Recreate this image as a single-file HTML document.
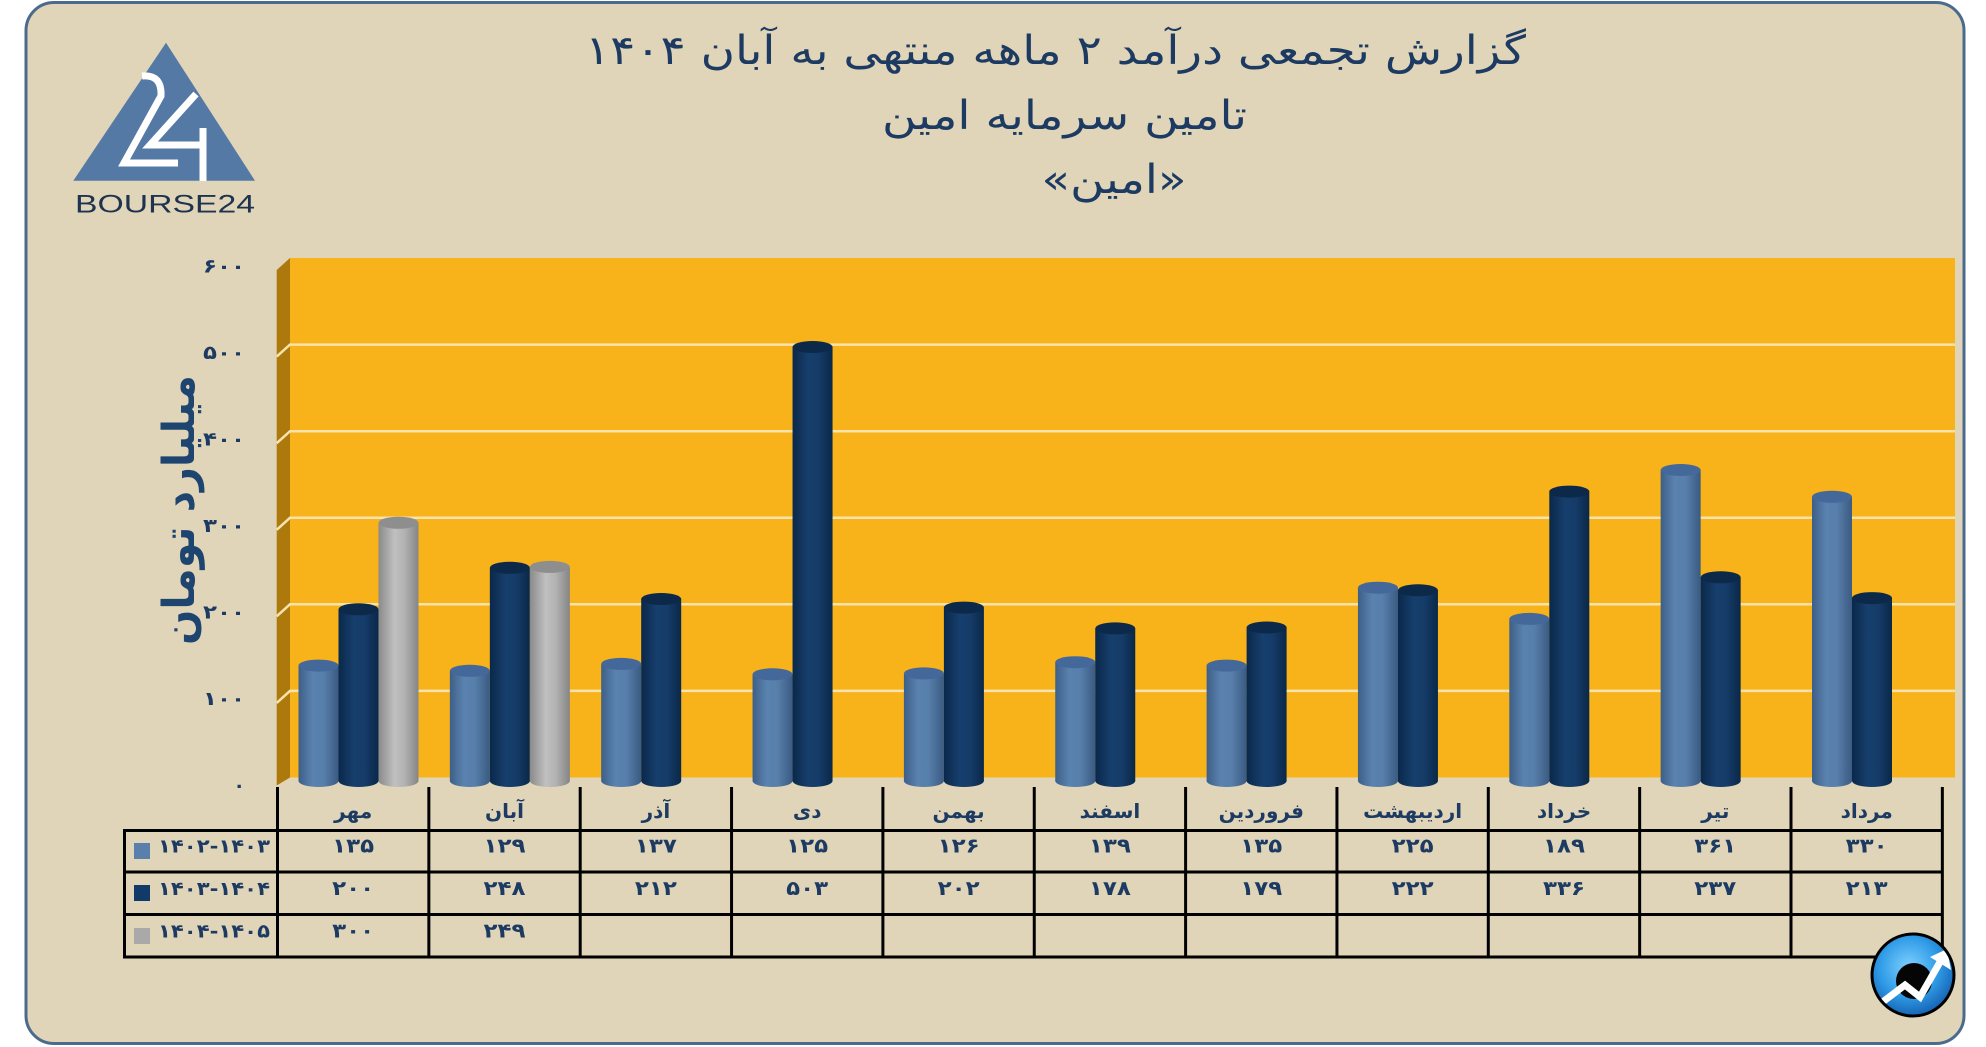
<!DOCTYPE html>
<html>
<head>
<meta charset="utf-8">
<style>
  html, body { margin:0; padding:0; background:#ffffff; }
  body { width:1986px; height:1047px; overflow:hidden; }
  svg { display:block; }
  .fa { font-family: "DejaVu Sans", sans-serif; }
</style>
</head>
<body>
<svg width="1986" height="1047" viewBox="0 0 1986 1047" xmlns="http://www.w3.org/2000/svg">
  <defs>
    <linearGradient id="gL" x1="0" x2="1" y1="0" y2="0">
      <stop offset="0" stop-color="#3d5f87"/>
      <stop offset="0.35" stop-color="#5a82af"/>
      <stop offset="0.62" stop-color="#587fab"/>
      <stop offset="1" stop-color="#3a5b82"/>
    </linearGradient>
    <linearGradient id="gD" x1="0" x2="1" y1="0" y2="0">
      <stop offset="0" stop-color="#0a284a"/>
      <stop offset="0.4" stop-color="#173f6d"/>
      <stop offset="0.65" stop-color="#153c69"/>
      <stop offset="1" stop-color="#0a2848"/>
    </linearGradient>
    <linearGradient id="gG" x1="0" x2="1" y1="0" y2="0">
      <stop offset="0" stop-color="#8a8a8a"/>
      <stop offset="0.4" stop-color="#c0c0c0"/>
      <stop offset="0.65" stop-color="#b2b2b2"/>
      <stop offset="1" stop-color="#858585"/>
    </linearGradient>
    <radialGradient id="gI" cx="0.45" cy="0.4" r="0.6">
      <stop offset="0" stop-color="#7fd0ff"/>
      <stop offset="0.6" stop-color="#2f9be6"/>
      <stop offset="1" stop-color="#1664b4"/>
    </radialGradient>
    <clipPath id="iconClip">
      <circle cx="1913" cy="975" r="40"/>
    </clipPath>
  </defs>

  <!-- outer panel -->
  <rect x="26" y="2.5" width="1938" height="1041" rx="28" ry="28" fill="#e0d5b8" stroke="#4b6b8d" stroke-width="3"/>

  <!-- logo -->
  <polygon points="166,42.7 73.3,180.7 255,180.7" fill="#5479a5"/>
  <path d="M142,76 Q162,74 161,96 L124,163 L178,163" fill="none" stroke="#ffffff" stroke-width="7" stroke-linejoin="miter"/>
  <path d="M196,94 L150,145 L206,145" fill="none" stroke="#ffffff" stroke-width="7" stroke-linejoin="miter"/>
  <path d="M203,128 L203,181" fill="none" stroke="#ffffff" stroke-width="7"/>
  <text x="75" y="212.5" font-family="Liberation Sans, sans-serif" font-size="25" textLength="180" lengthAdjust="spacingAndGlyphs" fill="#1e3350">BOURSE24</text>

  <!-- title -->
  <g class="fa" fill="#1d3b62" font-size="40">
    <text x="1055.5" y="64" text-anchor="middle" textLength="941" lengthAdjust="spacingAndGlyphs">گزارش تجمعی درآمد ۲ ماهه منتهی به آبان ۱۴۰۴</text>
    <text x="1064.5" y="129" text-anchor="middle" textLength="365" lengthAdjust="spacingAndGlyphs">تامین سرمایه امین</text>
    <text x="1114" y="193" text-anchor="middle" textLength="145" lengthAdjust="spacingAndGlyphs">«امین»</text>
  </g>

  <!-- plot back wall -->
  <rect x="290" y="258" width="1665" height="519.5" fill="#f8b21a"/>
  <!-- side wall -->
  <polygon points="276.7,270 290,258 290,777.5 276.7,785.5" fill="#ae790c"/>

  <!-- gridlines -->
  <g stroke="#f6e3ae" stroke-width="2.5" fill="none">
    <path d="M276.7,356.6 L290,344.6 L1955,344.6"/>
    <path d="M276.7,443.2 L290,431.2 L1955,431.2"/>
    <path d="M276.7,529.8 L290,517.8 L1955,517.8"/>
    <path d="M276.7,616.3 L290,604.3 L1955,604.3"/>
    <path d="M276.7,702.9 L290,690.9 L1955,690.9"/>
  </g>

  <!-- y axis labels -->
  <g class="fa" fill="#1d3b62" font-size="19" font-weight="bold" text-anchor="end">
    <text x="245" y="272.5" textLength="42" lengthAdjust="spacingAndGlyphs">۶۰۰</text>
    <text x="245" y="359" textLength="42" lengthAdjust="spacingAndGlyphs">۵۰۰</text>
    <text x="245" y="445.5" textLength="42" lengthAdjust="spacingAndGlyphs">۴۰۰</text>
    <text x="245" y="532" textLength="42" lengthAdjust="spacingAndGlyphs">۳۰۰</text>
    <text x="245" y="618.5" textLength="42" lengthAdjust="spacingAndGlyphs">۲۰۰</text>
    <text x="245" y="705" textLength="42" lengthAdjust="spacingAndGlyphs">۱۰۰</text>
    <text x="245" y="791.5">۰</text>
  </g>

  <!-- y axis title -->
  <text class="fa" transform="translate(194,510) rotate(-90)" text-anchor="middle" font-size="44" font-weight="bold" textLength="270" lengthAdjust="spacingAndGlyphs" fill="#1e4470">میلیارد تومان</text>

  <!-- bars -->
  <g>
    <!-- مهر -->
    <rect x="298.5" y="665.6" width="40" height="115.4" fill="url(#gL)"/><ellipse cx="318.5" cy="781" rx="20" ry="6" fill="url(#gL)"/><ellipse cx="318.5" cy="665.6" rx="20" ry="6" fill="#44689a"/>
    <rect x="338.5" y="609.3" width="40" height="171.7" fill="url(#gD)"/><ellipse cx="358.5" cy="781" rx="20" ry="6" fill="url(#gD)"/><ellipse cx="358.5" cy="609.3" rx="20" ry="6" fill="#0c2949"/>
    <rect x="378.5" y="522.8" width="40" height="258.2" fill="url(#gG)"/><ellipse cx="398.5" cy="781" rx="20" ry="6" fill="url(#gG)"/><ellipse cx="398.5" cy="522.8" rx="20" ry="6" fill="#8e8e8e"/>
    <!-- آبان -->
    <rect x="449.85" y="670.8" width="40" height="110.2" fill="url(#gL)"/><ellipse cx="469.85" cy="781" rx="20" ry="6" fill="url(#gL)"/><ellipse cx="469.85" cy="670.8" rx="20" ry="6" fill="#44689a"/>
    <rect x="489.85" y="567.8" width="40" height="213.2" fill="url(#gD)"/><ellipse cx="509.85" cy="781" rx="20" ry="6" fill="url(#gD)"/><ellipse cx="509.85" cy="567.8" rx="20" ry="6" fill="#0c2949"/>
    <rect x="529.85" y="566.9" width="40" height="214.1" fill="url(#gG)"/><ellipse cx="549.85" cy="781" rx="20" ry="6" fill="url(#gG)"/><ellipse cx="549.85" cy="566.9" rx="20" ry="6" fill="#8e8e8e"/>
    <!-- آذر -->
    <rect x="601.2" y="663.9" width="40" height="117.1" fill="url(#gL)"/><ellipse cx="621.2" cy="781" rx="20" ry="6" fill="url(#gL)"/><ellipse cx="621.2" cy="663.9" rx="20" ry="6" fill="#44689a"/>
    <rect x="641.2" y="599.0" width="40" height="182" fill="url(#gD)"/><ellipse cx="661.2" cy="781" rx="20" ry="6" fill="url(#gD)"/><ellipse cx="661.2" cy="599.0" rx="20" ry="6" fill="#0c2949"/>
    <!-- دی -->
    <rect x="752.55" y="674.3" width="40" height="106.7" fill="url(#gL)"/><ellipse cx="772.55" cy="781" rx="20" ry="6" fill="url(#gL)"/><ellipse cx="772.55" cy="674.3" rx="20" ry="6" fill="#44689a"/>
    <rect x="792.55" y="347.0" width="40" height="434" fill="url(#gD)"/><ellipse cx="812.55" cy="781" rx="20" ry="6" fill="url(#gD)"/><ellipse cx="812.55" cy="347.0" rx="20" ry="6" fill="#0c2949"/>
    <!-- بهمن -->
    <rect x="903.9" y="673.4" width="40" height="107.6" fill="url(#gL)"/><ellipse cx="923.9" cy="781" rx="20" ry="6" fill="url(#gL)"/><ellipse cx="923.9" cy="673.4" rx="20" ry="6" fill="#44689a"/>
    <rect x="943.9" y="607.6" width="40" height="173.4" fill="url(#gD)"/><ellipse cx="963.9" cy="781" rx="20" ry="6" fill="url(#gD)"/><ellipse cx="963.9" cy="607.6" rx="20" ry="6" fill="#0c2949"/>
    <!-- اسفند -->
    <rect x="1055.25" y="662.2" width="40" height="118.8" fill="url(#gL)"/><ellipse cx="1075.25" cy="781" rx="20" ry="6" fill="url(#gL)"/><ellipse cx="1075.25" cy="662.2" rx="20" ry="6" fill="#44689a"/>
    <rect x="1095.25" y="628.4" width="40" height="152.6" fill="url(#gD)"/><ellipse cx="1115.25" cy="781" rx="20" ry="6" fill="url(#gD)"/><ellipse cx="1115.25" cy="628.4" rx="20" ry="6" fill="#0c2949"/>
    <!-- فروردین -->
    <rect x="1206.6" y="665.6" width="40" height="115.4" fill="url(#gL)"/><ellipse cx="1226.6" cy="781" rx="20" ry="6" fill="url(#gL)"/><ellipse cx="1226.6" cy="665.6" rx="20" ry="6" fill="#44689a"/>
    <rect x="1246.6" y="627.5" width="40" height="153.5" fill="url(#gD)"/><ellipse cx="1266.6" cy="781" rx="20" ry="6" fill="url(#gD)"/><ellipse cx="1266.6" cy="627.5" rx="20" ry="6" fill="#0c2949"/>
    <!-- اردیبهشت -->
    <rect x="1357.95" y="587.7" width="40" height="193.3" fill="url(#gL)"/><ellipse cx="1377.95" cy="781" rx="20" ry="6" fill="url(#gL)"/><ellipse cx="1377.95" cy="587.7" rx="20" ry="6" fill="#44689a"/>
    <rect x="1397.95" y="590.3" width="40" height="190.7" fill="url(#gD)"/><ellipse cx="1417.95" cy="781" rx="20" ry="6" fill="url(#gD)"/><ellipse cx="1417.95" cy="590.3" rx="20" ry="6" fill="#0c2949"/>
    <!-- خرداد -->
    <rect x="1509.3" y="618.9" width="40" height="162.1" fill="url(#gL)"/><ellipse cx="1529.3" cy="781" rx="20" ry="6" fill="url(#gL)"/><ellipse cx="1529.3" cy="618.9" rx="20" ry="6" fill="#44689a"/>
    <rect x="1549.3" y="491.6" width="40" height="289.4" fill="url(#gD)"/><ellipse cx="1569.3" cy="781" rx="20" ry="6" fill="url(#gD)"/><ellipse cx="1569.3" cy="491.6" rx="20" ry="6" fill="#0c2949"/>
    <!-- تیر -->
    <rect x="1660.65" y="470.0" width="40" height="311" fill="url(#gL)"/><ellipse cx="1680.65" cy="781" rx="20" ry="6" fill="url(#gL)"/><ellipse cx="1680.65" cy="470.0" rx="20" ry="6" fill="#44689a"/>
    <rect x="1700.65" y="577.3" width="40" height="203.7" fill="url(#gD)"/><ellipse cx="1720.65" cy="781" rx="20" ry="6" fill="url(#gD)"/><ellipse cx="1720.65" cy="577.3" rx="20" ry="6" fill="#0c2949"/>
    <!-- مرداد -->
    <rect x="1812" y="496.8" width="40" height="284.2" fill="url(#gL)"/><ellipse cx="1832" cy="781" rx="20" ry="6" fill="url(#gL)"/><ellipse cx="1832" cy="496.8" rx="20" ry="6" fill="#44689a"/>
    <rect x="1852" y="598.1" width="40" height="182.9" fill="url(#gD)"/><ellipse cx="1872" cy="781" rx="20" ry="6" fill="url(#gD)"/><ellipse cx="1872" cy="598.1" rx="20" ry="6" fill="#0c2949"/>
  </g>

  <!-- data table lines -->
  <g stroke="#000000" stroke-width="3" fill="none">
    <line x1="124.5" y1="830.5" x2="1943.5" y2="830.5"/>
    <line x1="124.5" y1="872" x2="1943.5" y2="872"/>
    <line x1="124.5" y1="914.5" x2="1943.5" y2="914.5"/>
    <line x1="124.5" y1="957" x2="1943.5" y2="957"/>
    <line x1="124.5" y1="829" x2="124.5" y2="958.5"/>
    <line x1="277.5" y1="787" x2="277.5" y2="958.5"/>
    <line x1="428.85" y1="787" x2="428.85" y2="958.5"/>
    <line x1="580.2" y1="787" x2="580.2" y2="958.5"/>
    <line x1="731.55" y1="787" x2="731.55" y2="958.5"/>
    <line x1="882.9" y1="787" x2="882.9" y2="958.5"/>
    <line x1="1034.25" y1="787" x2="1034.25" y2="958.5"/>
    <line x1="1185.6" y1="787" x2="1185.6" y2="958.5"/>
    <line x1="1336.95" y1="787" x2="1336.95" y2="958.5"/>
    <line x1="1488.3" y1="787" x2="1488.3" y2="958.5"/>
    <line x1="1639.65" y1="787" x2="1639.65" y2="958.5"/>
    <line x1="1791" y1="787" x2="1791" y2="958.5"/>
    <line x1="1942.35" y1="787" x2="1942.35" y2="958.5"/>
  </g>

  <!-- category labels -->
  <g class="fa" fill="#1d3b62" font-size="20" font-weight="bold" text-anchor="middle">
    <text x="353.2" y="818">مهر</text>
    <text x="504.5" y="818">آبان</text>
    <text x="655.9" y="818">آذر</text>
    <text x="807.2" y="818">دی</text>
    <text x="958.6" y="818">بهمن</text>
    <text x="1109.9" y="818">اسفند</text>
    <text x="1261.3" y="818">فروردین</text>
    <text x="1412.6" y="818">اردیبهشت</text>
    <text x="1564" y="818">خرداد</text>
    <text x="1715.3" y="818">تیر</text>
    <text x="1866.7" y="818">مرداد</text>
  </g>

  <!-- values -->
  <g class="fa" fill="#1d3b62" font-size="20" font-weight="bold" text-anchor="middle">
    <text x="353.2" y="852.5" textLength="42" lengthAdjust="spacingAndGlyphs">۱۳۵</text>
    <text x="504.5" y="852.5" textLength="42" lengthAdjust="spacingAndGlyphs">۱۲۹</text>
    <text x="655.9" y="852.5" textLength="42" lengthAdjust="spacingAndGlyphs">۱۳۷</text>
    <text x="807.2" y="852.5" textLength="42" lengthAdjust="spacingAndGlyphs">۱۲۵</text>
    <text x="958.6" y="852.5" textLength="42" lengthAdjust="spacingAndGlyphs">۱۲۶</text>
    <text x="1109.9" y="852.5" textLength="42" lengthAdjust="spacingAndGlyphs">۱۳۹</text>
    <text x="1261.3" y="852.5" textLength="42" lengthAdjust="spacingAndGlyphs">۱۳۵</text>
    <text x="1412.6" y="852.5" textLength="42" lengthAdjust="spacingAndGlyphs">۲۲۵</text>
    <text x="1564" y="852.5" textLength="42" lengthAdjust="spacingAndGlyphs">۱۸۹</text>
    <text x="1715.3" y="852.5" textLength="42" lengthAdjust="spacingAndGlyphs">۳۶۱</text>
    <text x="1866.7" y="852.5" textLength="42" lengthAdjust="spacingAndGlyphs">۳۳۰</text>

    <text x="353.2" y="895" textLength="42" lengthAdjust="spacingAndGlyphs">۲۰۰</text>
    <text x="504.5" y="895" textLength="42" lengthAdjust="spacingAndGlyphs">۲۴۸</text>
    <text x="655.9" y="895" textLength="42" lengthAdjust="spacingAndGlyphs">۲۱۲</text>
    <text x="807.2" y="895" textLength="42" lengthAdjust="spacingAndGlyphs">۵۰۳</text>
    <text x="958.6" y="895" textLength="42" lengthAdjust="spacingAndGlyphs">۲۰۲</text>
    <text x="1109.9" y="895" textLength="42" lengthAdjust="spacingAndGlyphs">۱۷۸</text>
    <text x="1261.3" y="895" textLength="42" lengthAdjust="spacingAndGlyphs">۱۷۹</text>
    <text x="1412.6" y="895" textLength="42" lengthAdjust="spacingAndGlyphs">۲۲۲</text>
    <text x="1564" y="895" textLength="42" lengthAdjust="spacingAndGlyphs">۳۳۶</text>
    <text x="1715.3" y="895" textLength="42" lengthAdjust="spacingAndGlyphs">۲۳۷</text>
    <text x="1866.7" y="895" textLength="42" lengthAdjust="spacingAndGlyphs">۲۱۳</text>

    <text x="353.2" y="937.5" textLength="42" lengthAdjust="spacingAndGlyphs">۳۰۰</text>
    <text x="504.5" y="937.5" textLength="42" lengthAdjust="spacingAndGlyphs">۲۴۹</text>
  </g>

  <!-- legend column -->
  <rect x="134" y="843" width="16" height="16" fill="#5a7fab"/>
  <rect x="134" y="885" width="16" height="16" fill="#123a68"/>
  <rect x="134" y="928" width="16" height="16" fill="#a9a9a9"/>
  <g class="fa" fill="#1d3b62" font-size="19" font-weight="bold" text-anchor="end" direction="ltr">
    <text x="270" y="852.5" textLength="112" lengthAdjust="spacingAndGlyphs">۱۴۰۲-۱۴۰۳</text>
    <text x="270" y="895" textLength="112" lengthAdjust="spacingAndGlyphs">۱۴۰۳-۱۴۰۴</text>
    <text x="270" y="937.5" textLength="112" lengthAdjust="spacingAndGlyphs">۱۴۰۴-۱۴۰۵</text>
  </g>

  <!-- bottom-right icon -->
  <circle cx="1913" cy="975" r="41" fill="url(#gI)"/>
  <g clip-path="url(#iconClip)">
    <circle cx="1914" cy="981" r="18" fill="#050505"/>
    <polyline points="1872,1010 1905,985 1920,997 1940,962" fill="none" stroke="#ffffff" stroke-width="7" stroke-linejoin="miter"/>
    <polygon points="1947,949 1930,957 1951,970" fill="#ffffff"/>
  </g>
  <circle cx="1913" cy="975" r="41" fill="none" stroke="#000000" stroke-width="3"/>
</svg>
</body>
</html>
